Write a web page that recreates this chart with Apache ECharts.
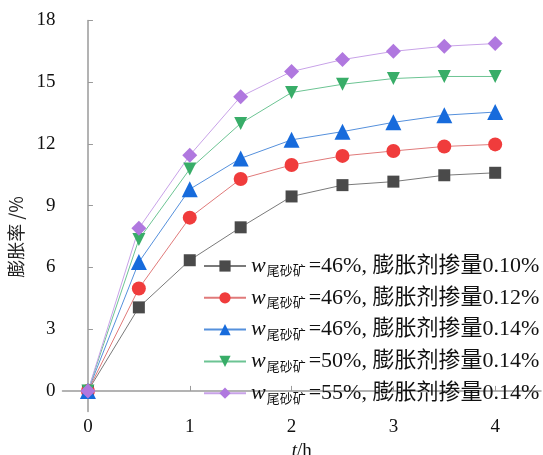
<!DOCTYPE html>
<html><head><meta charset="utf-8">
<script src="https://cdn.jsdelivr.net/npm/echarts@6/dist/echarts.min.js"></script>
<style>html,body{margin:0;padding:0;background:#fff}#c{width:543px;height:455px}</style>
</head><body><div id="c"></div>
<script>
const times = [0, 0.5, 1, 1.5, 2, 2.5, 3, 3.5, 4];
const xTicks = [0, 1, 2, 3, 4];
const yTicks = [0, 3, 6, 9, 12, 15, 18];
const names = ['46%, 膨胀剂掺量0.10%', '46%, 膨胀剂掺量0.12%', '46%, 膨胀剂掺量0.14%', '50%, 膨胀剂掺量0.14%', '55%, 膨胀剂掺量0.14%'];
const s1 = [0, 4.06, 6.35, 7.95, 9.45, 10.0, 10.17, 10.48, 10.6];
const s2 = [0, 4.98, 8.42, 10.3, 10.98, 11.42, 11.66, 11.88, 11.98];
const s3 = [0, 6.26, 9.8, 11.3, 12.2, 12.6, 13.05, 13.4, 13.55];
const s4 = [0, 7.36, 10.78, 13.0, 14.5, 14.9, 15.18, 15.28, 15.28];
const s5 = [0, 7.9, 11.45, 14.3, 15.52, 16.1, 16.5, 16.75, 16.88];
const allData = [s1, s2, s3, s4, s5];
const styles = [
  {symbol:'rect', size:12, rot:0, c:'#4a4a4a', lc:'#7a7a7a'},
  {symbol:'circle', size:14, rot:0, c:'#f03c3c', lc:'#e07a7a'},
  {symbol:'triangle', size:16, rot:0, c:'#176bdc', lc:'#5590dc'},
  {symbol:'triangle', size:13, rot:180, c:'#38ad68', lc:'#6cc493'},
  {symbol:'diamond', size:15, rot:0, c:'#b078df', lc:'#c8a2e8'}
];
const serif = "'Liberation Serif', 'Times New Roman', serif";
const mixed = "'Liberation Serif', 'Noto Sans CJK SC', serif";
const axisColor = '#9a9a9a';
const series = allData.map((d, i) => ({
  name: names[i],
  type: 'line',
  data: times.map((t, j) => [t, d[j]]),
  symbol: styles[i].symbol,
  symbolSize: styles[i].size,
  symbolRotate: styles[i].rot,
  showAllSymbol: true,
  itemStyle: {color: styles[i].c},
  lineStyle: {color: styles[i].lc, width: 1},
  emphasis: {disabled: true},
  animation: false
}));
const chart = echarts.init(document.getElementById('c'));
chart.setOption({
  animation: false,
  grid: {left: 62.5, right: 2, top: 20.5, bottom: 43.5, containLabel: false, outerBoundsMode: 'none'},
  xAxis: {
    type: 'value', min: -0.25, max: 4.45,
    axisLine: {show: true, lineStyle: {color: axisColor, width: 1.5}},
    axisTick: {show: true, inside: true, length: 5, customValues: xTicks, lineStyle: {color: axisColor}},
    axisLabel: {customValues: xTicks, color: '#111', fontFamily: serif, fontSize: 19, margin: 6},
    splitLine: {show: false},
    name: '{i|t}{n|/h}', nameLocation: 'middle', nameGap: 28,
    nameTextStyle: {rich: {
      i: {fontFamily: serif, fontStyle: 'italic', fontSize: 19, color: '#111'},
      n: {fontFamily: serif, fontSize: 19, color: '#111'}
    }}
  },
  yAxis: {
    type: 'value', min: -1, max: 18,
    axisLine: {show: true, lineStyle: {color: axisColor, width: 1.5}},
    axisTick: {show: true, inside: true, length: 5, customValues: yTicks, lineStyle: {color: axisColor}},
    axisLabel: {customValues: yTicks, color: '#111', fontFamily: serif, fontSize: 19, margin: 7},
    splitLine: {show: false},
    name: '膨胀率 /%', nameLocation: 'middle', nameGap: 31, nameRotate: 90,
    nameTextStyle: {fontFamily: "'Noto Sans CJK SC', sans-serif", fontSize: 18, color: '#222', padding: [0, 42, 0, 0]}
  },
  legend: {
    orient: 'vertical', left: 203, top: 255, padding: 0,
    itemWidth: 42, itemHeight: 14, itemGap: 9.8,
    data: names,
    formatter: n => '{w|w}{s|尾砂矿}{t|=' + n + '}',
    textStyle: {
      padding: [0, 0, 0, 0],
      rich: {
        w: {fontFamily: serif, fontStyle: 'italic', fontSize: 22, color: '#111'},
        s: {fontFamily: "'Noto Sans CJK SC', sans-serif", fontSize: 13, color: '#111', verticalAlign: 'bottom', padding: [6, 3, 0, 1]},
        t: {fontFamily: mixed, fontSize: 22, color: '#111'}
      }
    }
  },
  series: series
});
</script></body></html>
